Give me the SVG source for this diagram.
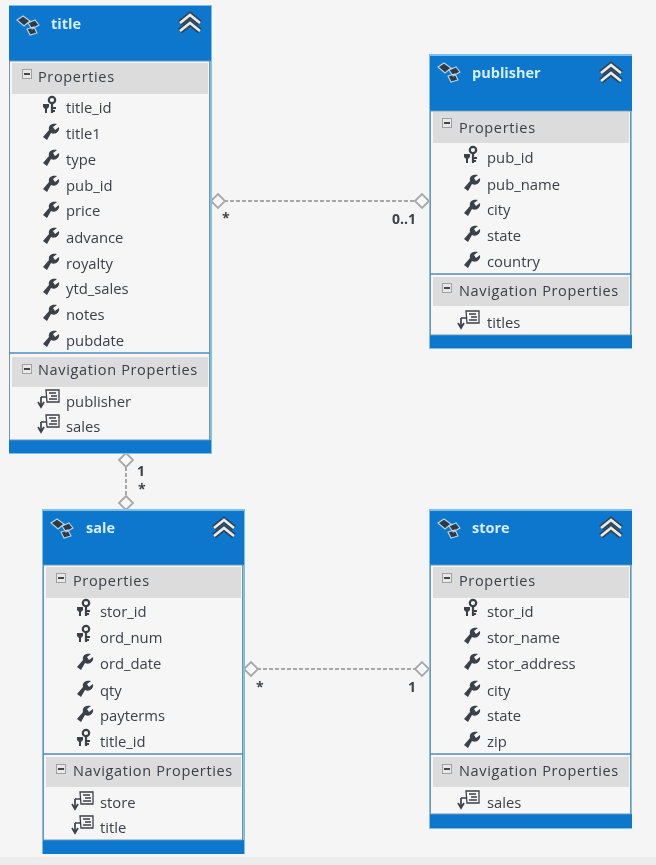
<svg xmlns="http://www.w3.org/2000/svg" width="656" height="865" viewBox="0 0 656 865">
<style>
.box{fill:#f6f6f6;stroke:#7cc0ea;stroke-width:2}
.hd{fill:#0777cd}
.sec{fill:#dcdcdc}
.sep{stroke:#4f8db8;stroke-width:1.5}
.inner{fill:none;stroke:#6f95ad;stroke-width:1}
text{font-family:"Open Sans","Noto Sans","Liberation Sans",sans-serif}
.t{font-size:14.500px;font-weight:700;fill:#d8eefa}
.s{font-size:14.500px;fill:#3a4048;letter-spacing:.65px}
.r{font-size:14.800px;fill:#3a4048;transform:translateY(.5px)}
.m{font-size:14px;font-weight:700;fill:#3d4248}
.conn{fill:none;stroke:#a8a8a8;stroke-width:2;stroke-dasharray:4 2}
.dia{fill:#f8f8f8;stroke:#a8a8a8;stroke-width:1.8}
</style>
<defs>
<filter id="soft" x="0" y="0" width="100%" height="100%"><feGaussianBlur stdDeviation=".4"/></filter>
<g id="key"><circle cx="4" cy="-7" r="3.2" fill="none" stroke="#3a4048" stroke-width="2.2"/><path d="M4-4V6M4 1H8M4 4H7" stroke="#3a4048" stroke-width="2.2" fill="none"/><path d="M-5-3H1V0L-1 2V6H-3V2L-5 0Z" fill="#3a4048"/></g>
<g id="wrench"><path d="M-7 5-1-2C-2-6 1-9 7-8L3-5 5-2 9-5C10 0 5 3 1 1L-3 8Z" fill="#3a4048"/></g>
<g id="nav"><path d="M-3-9H10V3H-2ZM0-6H7M2-3H8M0 0H8" fill="#f6f6f6" stroke="#3a4048" stroke-width="1.3"/><path d="M-8-2V7M-11 3-8 8-5 3M-8-2H-3" fill="none" stroke="#3a4048" stroke-width="1.7"/></g>
<g id="minus"><rect x="-4.500" y="-4.500" width="9" height="9" fill="#e8e8e8" stroke="#a0a0a0"/><path d="M-3 0H3" stroke="#333" stroke-width="1.8"/></g>
<g id="ent"><path d="M-10-5-4-9 3-4-3 1ZM1-2 8-5 12 0 5 4ZM0 4 7 2 10 8 3 10Z" fill="#2f3a44" stroke="#bcd5e6" stroke-width="1.1"/></g>
<g id="chev"><path d="M-10-1 0-9 10-1M-10 7 0-1 10 7" fill="none" stroke="#3a4048" stroke-width="6"/><path d="M-10-1 0-9 10-1M-10 7 0-1 10 7" fill="none" stroke="#e0eef6" stroke-width="2.600"/></g>
<path id="d" d="M-7 0 0-7 7 0 0 7Z"/>
</defs>
<rect width="656" height="865" fill="#f5f5f5"/>
<rect y="857" width="656" height="8" fill="#ececec"/>
<g filter="url(#soft)">
<g id="connectors">
<path class="conn" d="M224 201H415"/>
<path class="conn" d="M126 467V496"/>
<path class="conn" d="M257 669H415"/>
<use href="#d" class="dia" x="218" y="201"/><use href="#d" class="dia" x="422" y="201"/>
<use href="#d" class="dia" x="126" y="460"/><use href="#d" class="dia" x="126" y="503"/>
<use href="#d" class="dia" x="251" y="669"/><use href="#d" class="dia" x="422" y="669"/>
<text class="m" x="222" y="223">*</text><text class="m" x="392" y="224">0..1</text>
<text class="m" x="137" y="476">1</text><text class="m" x="138" y="494">*</text>
<text class="m" x="256" y="692">*</text><text class="m" x="408" y="692">1</text>
</g>
<g id="title">
<rect class="box" x="9" y="5" width="202" height="448"/><rect class="hd" x="9" y="6" width="202" height="55"/><rect class="hd" x="9" y="440" width="202" height="13"/>
<rect class="inner" x="9.500" y="61" width="200" height="379"/>
<rect class="sec" x="12" y="63" width="196" height="31"/><rect class="sec" x="12" y="357" width="196" height="30"/><path class="sep" d="M9 353H210"/>
<use href="#ent" x="27" y="25"/><text class="t" x="51" y="29">title</text><use href="#chev" x="190" y="24"/>
<use href="#minus" x="27" y="74"/><text class="s" x="38" y="82">Properties</text>
<use href="#key" x="48" y="107"/><text class="r" x="66" y="112">title_id</text>
<use href="#wrench" x="50" y="132"/><text class="r" x="66" y="138">title1</text>
<use href="#wrench" x="50" y="158"/><text class="r" x="66" y="164">type</text>
<use href="#wrench" x="50" y="184"/><text class="r" x="66" y="190">pub_id</text>
<use href="#wrench" x="50" y="210"/><text class="r" x="66" y="215">price</text>
<use href="#wrench" x="50" y="236"/><text class="r" x="66" y="242">advance</text>
<use href="#wrench" x="50" y="262"/><text class="r" x="66" y="268">royalty</text>
<use href="#wrench" x="50" y="287"/><text class="r" x="66" y="293">ytd_sales</text>
<use href="#wrench" x="50" y="313"/><text class="r" x="66" y="319">notes</text>
<use href="#wrench" x="50" y="339"/><text class="r" x="66" y="345">pubdate</text>
<use href="#minus" x="27" y="369"/><text class="s" x="38" y="375">Navigation Properties</text>
<use href="#nav" x="49" y="399"/><text class="r" x="66" y="406">publisher</text>
<use href="#nav" x="49" y="424"/><text class="r" x="66" y="431">sales</text>
</g>
<g id="publisher">
<rect class="box" x="430" y="55" width="202" height="293"/><rect class="hd" x="430" y="56" width="202" height="55"/><rect class="hd" x="430" y="335" width="202" height="13"/>
<rect class="inner" x="430.500" y="111" width="200" height="224"/>
<rect class="sec" x="433" y="112" width="196" height="31"/><rect class="sec" x="433" y="277" width="196" height="29"/><path class="sep" d="M430 274H631"/>
<use href="#ent" x="448" y="72"/><text class="t" x="472" y="78">publisher</text><use href="#chev" x="611" y="74"/>
<use href="#minus" x="447" y="123"/><text class="s" x="459" y="133">Properties</text>
<use href="#key" x="469" y="157"/><text class="r" x="487" y="162">pub_id</text>
<use href="#wrench" x="471" y="183"/><text class="r" x="487" y="189">pub_name</text>
<use href="#wrench" x="471" y="208"/><text class="r" x="487" y="214">city</text>
<use href="#wrench" x="471" y="234"/><text class="r" x="487" y="240">state</text>
<use href="#wrench" x="471" y="260"/><text class="r" x="487" y="266">country</text>
<use href="#minus" x="447" y="288"/><text class="s" x="459" y="296">Navigation Properties</text>
<use href="#nav" x="469" y="320"/><text class="r" x="487" y="327">titles</text>
</g>
<g id="sale">
<rect class="box" x="43" y="510" width="201" height="344"/><rect class="hd" x="43" y="511" width="201" height="54"/><rect class="hd" x="43" y="840" width="201" height="14"/>
<rect class="inner" x="43.500" y="565" width="199" height="275"/>
<rect class="sec" x="46" y="567" width="195" height="31"/><rect class="sec" x="46" y="757" width="195" height="30"/><path class="sep" d="M43 754H243"/>
<use href="#ent" x="61" y="528"/><text class="t" x="86" y="533">sale</text><use href="#chev" x="224" y="529"/>
<use href="#minus" x="61" y="578"/><text class="s" x="73" y="586">Properties</text>
<use href="#key" x="82" y="610"/><text class="r" x="100" y="616">stor_id</text>
<use href="#key" x="82" y="636"/><text class="r" x="100" y="642">ord_num</text>
<use href="#wrench" x="84" y="662"/><text class="r" x="100" y="668">ord_date</text>
<use href="#wrench" x="84" y="689"/><text class="r" x="100" y="695">qty</text>
<use href="#wrench" x="84" y="714"/><text class="r" x="100" y="720">payterms</text>
<use href="#key" x="82" y="740"/><text class="r" x="100" y="746">title_id</text>
<use href="#minus" x="61" y="769"/><text class="s" x="73" y="776">Navigation Properties</text>
<use href="#nav" x="83" y="801"/><text class="r" x="100" y="807">store</text>
<use href="#nav" x="83" y="825"/><text class="r" x="100" y="832">title</text>
</g>
<g id="store">
<rect class="box" x="430" y="510" width="202" height="318"/><rect class="hd" x="430" y="511" width="202" height="54"/><rect class="hd" x="430" y="814" width="202" height="14"/>
<rect class="inner" x="430.500" y="565" width="200" height="249"/>
<rect class="sec" x="433" y="567" width="196" height="31"/><rect class="sec" x="433" y="757" width="196" height="30"/><path class="sep" d="M430 754H631"/>
<use href="#ent" x="448" y="528"/><text class="t" x="472" y="533">store</text><use href="#chev" x="611" y="529"/>
<use href="#minus" x="447" y="578"/><text class="s" x="459" y="586">Properties</text>
<use href="#key" x="469" y="610"/><text class="r" x="487" y="616">stor_id</text>
<use href="#wrench" x="471" y="636"/><text class="r" x="487" y="642">stor_name</text>
<use href="#wrench" x="471" y="662"/><text class="r" x="487" y="668">stor_address</text>
<use href="#wrench" x="471" y="689"/><text class="r" x="487" y="695">city</text>
<use href="#wrench" x="471" y="714"/><text class="r" x="487" y="720">state</text>
<use href="#wrench" x="471" y="740"/><text class="r" x="487" y="746">zip</text>
<use href="#minus" x="447" y="769"/><text class="s" x="459" y="776">Navigation Properties</text>
<use href="#nav" x="469" y="800"/><text class="r" x="487" y="807">sales</text>
</g>
</g>
</svg>
